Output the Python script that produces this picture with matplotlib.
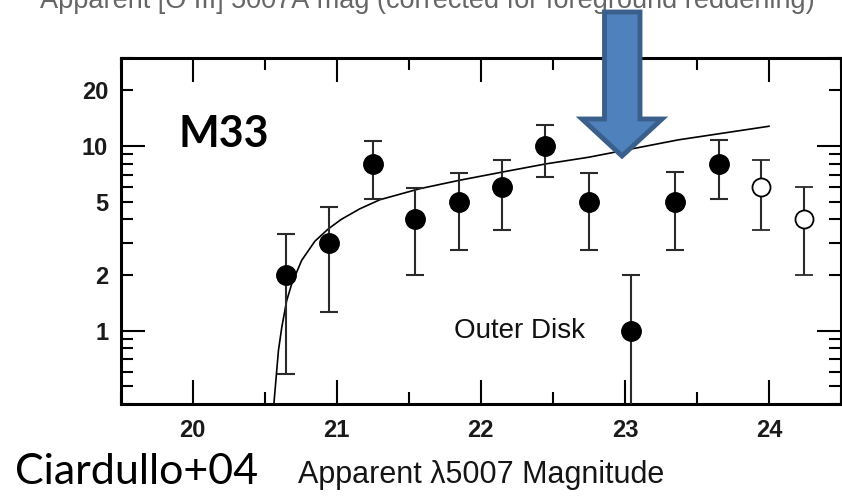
import numpy as np
import matplotlib
matplotlib.use("Agg")
import matplotlib.pyplot as plt
from matplotlib.ticker import FixedLocator, FuncFormatter, NullFormatter
from matplotlib.patches import Polygon

# ---------------- data ----------------
mag_filled = [20.65, 20.945, 21.25, 21.545, 21.85, 22.145, 22.445, 22.75, 23.045, 23.35, 23.65]
n_filled = [2, 3, 8, 4, 5, 6, 10, 5, 1, 5, 8]
hi_filled = [3.35, 4.67, 10.7, 5.95, 7.17, 8.36, 13.0, 7.17, 2.0, 7.2, 10.8]
lo_filled = [0.58, 1.26, 5.14, 2.0, 2.75, 3.52, 6.79, 2.75, 0.05, 2.74, 5.14]

mag_open = [23.945, 24.245]
n_open = [6, 4]
hi_open = [8.44, 6.0]
lo_open = [3.52, 2.0]
mag_edge = [24.56]
n_edge = [3]

curve_mag = [20.562, 20.595, 20.618, 20.652, 20.687, 20.756, 20.848, 20.94, 21.03,
             21.16, 21.30, 21.575, 21.85, 22.13, 22.45, 22.75, 22.91, 23.37, 24.0]
curve_n = [0.39, 0.78, 1.04, 1.45, 1.79, 2.40, 3.05, 3.55, 4.00,
           4.57, 5.12, 5.87, 6.52, 7.18, 8.00, 8.70, 9.20, 10.8, 12.8]

x_major = [20, 21, 22, 23, 24]
x_minor = [19.5, 20.5, 21.5, 22.5, 23.5, 24.5]
y_major = [1, 10]
y_minor = [0.4, 0.5, 0.6, 0.7, 0.8, 0.9, 2, 3, 4, 5, 6, 7, 8, 9, 20, 30]
y_labeled = [1, 2, 5, 10, 20]

W, H = 842, 497
fig = plt.figure(figsize=(W / 100, H / 100), dpi=100)

def fx(px):
    return px / W

def fy(py):
    return 1 - py / H

left, right, top, bottom = 120.7, 841.0, 58.0, 404.0
ax = fig.add_axes([fx(left), fy(bottom), fx(right - left), (bottom - top) / H])
ax.set_yscale("log")
ax.set_xlim(19.5, 24.5)
ax.set_ylim(0.4, 30)

label_font = dict(family=["Liberation Sans", "DejaVu Sans"])

# curve
ax.plot(curve_mag, curve_n, color="black", lw=1.2, zorder=2)

# filled points
yerr_f = [np.array(n_filled) - np.array(lo_filled), np.array(hi_filled) - np.array(n_filled)]
ax.errorbar(mag_filled, n_filled, yerr=yerr_f, fmt="o", ms=14, mfc="black", mec="black",
            ecolor="#2a2a2a", elinewidth=1.5, capsize=6.5, capthick=1.5, zorder=3)

# open points
yerr_o = [np.array(n_open) - np.array(lo_open), np.array(hi_open) - np.array(n_open)]
ax.errorbar(mag_open, n_open, yerr=yerr_o, fmt="o", ms=13, mfc="white", mec="black", mew=1.3,
            ecolor="#2a2a2a", elinewidth=1.5, capsize=6.5, capthick=1.5, zorder=3)
ax.plot(mag_edge, n_edge, "o", ms=13, mfc="white", mec="black", mew=1.3, clip_on=False, zorder=3)

# ticks
ax.xaxis.set_major_locator(FixedLocator(x_major))
ax.xaxis.set_minor_locator(FixedLocator(x_minor))
ax.xaxis.set_minor_formatter(NullFormatter())
ax.set_xticklabels([str(v) for v in x_major])
ax.yaxis.set_major_locator(FixedLocator(y_major))
ax.yaxis.set_minor_locator(FixedLocator(y_minor))

def yfmt(v, pos=None):
    for t in y_labeled:
        if abs(v - t) < 1e-6:
            return "%g" % t
    return ""

ax.yaxis.set_major_formatter(FuncFormatter(yfmt))
ax.yaxis.set_minor_formatter(FuncFormatter(yfmt))

ax.tick_params(which="both", direction="in", top=True, right=True, color="black")
ax.tick_params(which="major", length=17, width=1.5)
ax.tick_params(which="minor", length=8.5, width=1.5)
ax.tick_params(axis="x", which="both", pad=11)
ax.tick_params(axis="y", which="both", pad=9)
for lab in ax.get_xticklabels() + ax.get_yticklabels() + ax.get_yticklabels(minor=True):
    lab.set_fontfamily(["Liberation Sans", "DejaVu Sans"])
    lab.set_fontsize(17)
    lab.set_fontweight("bold")
    lab.set_color("#1a1a1a")
for s in ax.spines.values():
    s.set_linewidth(2.2)

ax.set_xlabel("Apparent λ5007 Magnitude", fontsize=22, labelpad=13, color="#151515", **label_font)

ax.text(22.27, 1.0, "Outer Disk", ha="center", va="center", fontsize=20, color="#111111", **label_font)

# slide annotations
fig.text(fx(178), fy(134), "M33", ha="left", va="center", fontsize=31, fontweight="bold",
         family=["Lato", "DejaVu Sans"], color="black")
fig.text(fx(15), fy(484), "Ciardullo+04", ha="left", va="baseline", fontsize=31,
         family=["Lato", "DejaVu Sans"], color="black")
fig.text(fx(427), fy(8), "Apparent [O III] 5007Å mag (corrected for foreground reddening)",
         ha="center", va="baseline", fontsize=19.5, color="#666666", **label_font)

# blue arrow (slide shape)
arrow_px = [(604.5, 12), (640, 12), (640, 119), (662, 119), (622, 156), (582, 119), (604.5, 119)]
arrow = Polygon([(fx(x), fy(y)) for x, y in arrow_px], closed=True, transform=fig.transFigure,
                facecolor="#4F81BD", edgecolor="#3A5F8B", lw=3.5, zorder=10, joinstyle="miter")
fig.patches.append(arrow)

fig.savefig("out.png", dpi=100)
